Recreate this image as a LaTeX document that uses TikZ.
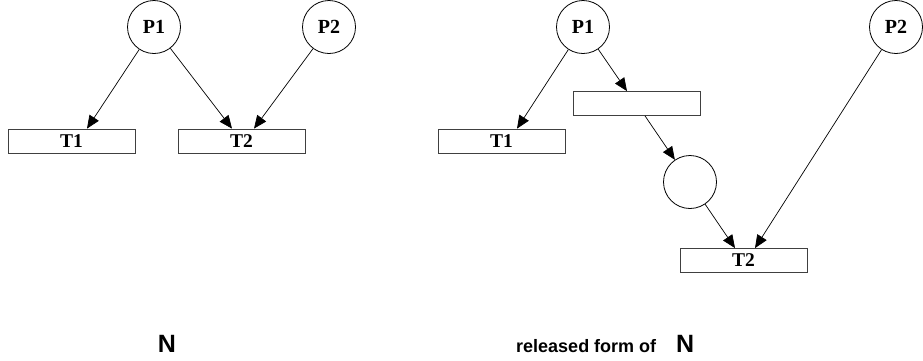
\documentclass[tikz,border=0pt]{standalone}
\usepackage{fontspec}
\setmainfont{Liberation Serif}
\setsansfont{Liberation Sans}
\usetikzlibrary{arrows.meta}
\tikzset{
  place/.style={circle, draw=black, line width=0.8pt, minimum size=53pt, inner sep=0pt,
    font=\fontsize{20}{20}\selectfont\bfseries},
  trans/.style={rectangle, draw=black!75, line width=0.8pt, minimum width=127pt,
    minimum height=24pt, inner sep=0pt, font=\fontsize{19.5}{19.5}\selectfont\bfseries},
  arc/.style={line width=0.7pt, -{Triangle[length=13pt, width=11pt]}},
  caption/.style={inner sep=0pt},
}
\begin{document}
\begin{tikzpicture}[x=1pt, y=-1pt]
  \useasboundingbox (0,0) rectangle (923,360);

  % net N
  \node[place] (lP1) at (154,27) {P1};
  \node[place] (lP2) at (329,27) {P2};
  \node[trans] (lT1) at (71.5,141) {T1};
  \node[trans] (lT2) at (241.5,141) {T2};
  \draw[arc] (lP1) -- ([xshift=15.5pt]lT1.north);
  \draw[arc] (lP1) -- ([xshift=-9.5pt]lT2.north);
  \draw[arc] (lP2) -- ([xshift=12.5pt]lT2.north);

  % released form of N
  \node[place] (rP1) at (583,27) {P1};
  \node[place] (rP2) at (896,27) {P2};
  \node[trans] (rT1) at (501.5,141) {T1};
  \node[trans] (rM) at (636.5,103.5) {};
  \node[place] (rC) at (690,182) {};
  \node[trans] (rT2) at (743.5,260.5) {T2};
  \draw[arc] (rP1) -- ([xshift=15.5pt]rT1.north);
  \draw[arc] (rP1) -- ([xshift=-9.5pt]rM.north);
  \draw[arc] ([xshift=8.5pt]rM.south) -- (rC);
  \draw[arc] (rC) -- ([xshift=-8.5pt]rT2.north);
  \draw[arc] (rP2) -- ([xshift=11.5pt]rT2.north);

  % captions
  \node[caption, anchor=base, font=\sffamily\bfseries\fontsize{25}{25}\selectfont] (capL) at (167,352) {N};
  \node[caption, anchor=base west, font=\sffamily\bfseries\fontsize{18}{18}\selectfont] (capR) at (516,352) {released form of};
  \node[caption, anchor=base west, font=\sffamily\bfseries\fontsize{25}{25}\selectfont] (capN) at (676,352) {N};
\end{tikzpicture}
\end{document}
